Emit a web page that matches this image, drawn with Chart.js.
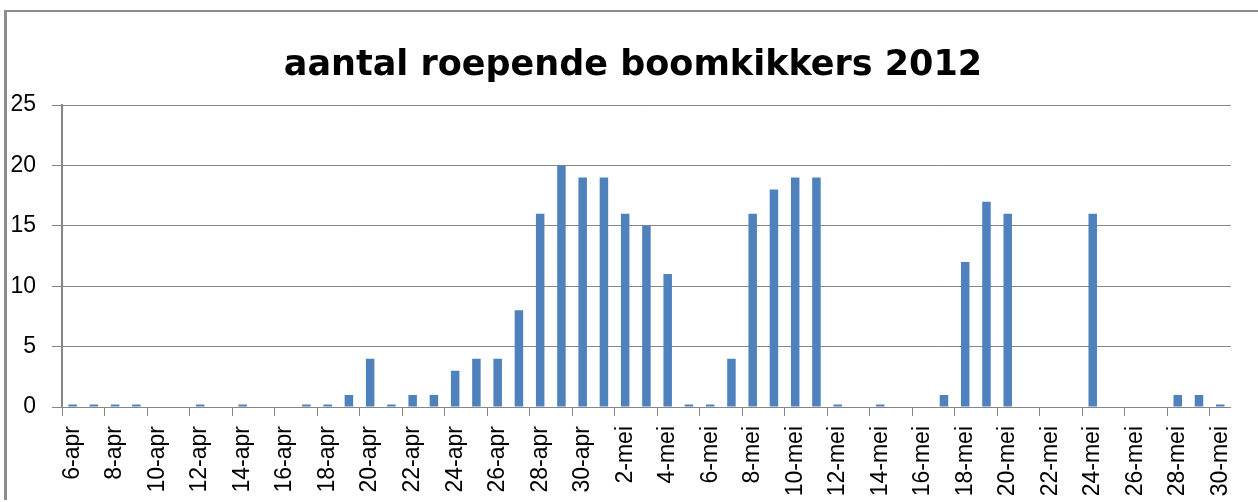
<!DOCTYPE html>
<html>
<head>
<meta charset="utf-8">
<script src="https://cdn.jsdelivr.net/npm/chart.js@4"></script>
<style>
  html, body { margin: 0; padding: 0; background: #fff; overflow: hidden; }
  #frame {
    position: absolute; left: 4px; top: 10px; width: 1260px; height: 488px;
    border-left: 3px solid #8c8c8c; border-top: 2px solid #8c8c8c;
  }
  #chart { position: absolute; left: 0; top: 0; }
</style>
</head>
<body>
<div id="frame"></div>
<canvas id="chart" width="1258" height="502"></canvas>
<script>
const chartTitle = 'aantal roepende boomkikkers 2012';

const days = [
  '6-apr', '7-apr', '8-apr', '9-apr', '10-apr', '11-apr', '12-apr', '13-apr', '14-apr', '15-apr',
  '16-apr', '17-apr', '18-apr', '19-apr', '20-apr', '21-apr', '22-apr', '23-apr', '24-apr', '25-apr',
  '26-apr', '27-apr', '28-apr', '29-apr', '30-apr', '1-mei', '2-mei', '3-mei', '4-mei', '5-mei',
  '6-mei', '7-mei', '8-mei', '9-mei', '10-mei', '11-mei', '12-mei', '13-mei', '14-mei', '15-mei',
  '16-mei', '17-mei', '18-mei', '19-mei', '20-mei', '21-mei', '22-mei', '23-mei', '24-mei', '25-mei',
  '26-mei', '27-mei', '28-mei', '29-mei', '30-mei'
];

const frogCounts = [
  0.2, 0.2, 0.2, 0.2, 0, 0, 0.2, 0, 0.2, 0,
  0, 0.2, 0.2, 1, 4, 0.2, 1, 1, 3, 4,
  4, 8, 16, 20, 19, 19, 16, 15, 11, 0.2,
  0.2, 4, 16, 18, 19, 19, 0.2, 0, 0.2, 0,
  0, 1, 12, 17, 16, 0, 0, 0, 16, 0,
  0, 0, 1, 1, 0.2
];

const yTicks = [0, 5, 10, 15, 20, 25];

const gray = '#868686';

// title in the original sits a bit right of the canvas centre
const nudgeTitle = {
  id: 'nudgeTitle',
  afterLayout(chart) {
    if (chart.titleBlock) chart.titleBlock.left += 26;
  }
};

new Chart(document.getElementById('chart').getContext('2d'), {
  type: 'bar',
  data: {
    labels: days,
    datasets: [{
      label: chartTitle,
      data: frogCounts,
      backgroundColor: '#4f81bd',
      barPercentage: 0.4,
      categoryPercentage: 1.0
    }]
  },
  plugins: [nudgeTitle],
  options: {
    responsive: false,
    animation: false,
    layout: { padding: { left: 0, right: 18, top: 0, bottom: 0 } },
    plugins: {
      legend: { display: false },
      tooltip: { enabled: false },
      title: {
        display: true,
        text: chartTitle,
        color: '#000',
        font: { family: 'DejaVu Sans', size: 35, weight: 'bold' },
        padding: { top: 45, bottom: 18 }
      }
    },
    scales: {
      x: {
        offset: true,
        grid: {
          offset: true,
          drawOnChartArea: false,
          drawTicks: true,
          tickLength: 9,
          color: ctx => (ctx.index % 2 === 0 ? gray : 'rgba(0,0,0,0)')
        },
        border: { color: gray, width: 1 },
        ticks: {
          autoSkip: false,
          maxRotation: 90,
          minRotation: 90,
          padding: 10,
          color: '#000',
          font: { family: 'Liberation Sans', size: 23 },
          callback: function (value, index) {
            return index % 2 === 0 ? this.getLabelForValue(value) : '';
          }
        },
        afterFit: scale => { scale.height = 95; }
      },
      y: {
        min: yTicks[0],
        max: yTicks[yTicks.length - 1],
        grid: { color: gray, lineWidth: 1, tickLength: 10 },
        border: { color: gray, width: 2 },
        ticks: {
          stepSize: 5,
          padding: 16,
          color: '#000',
          font: { family: 'Liberation Sans', size: 23 }
        },
        afterFit: scale => { scale.width = 62; }
      }
    }
  }
});
</script>
</body>
</html>
